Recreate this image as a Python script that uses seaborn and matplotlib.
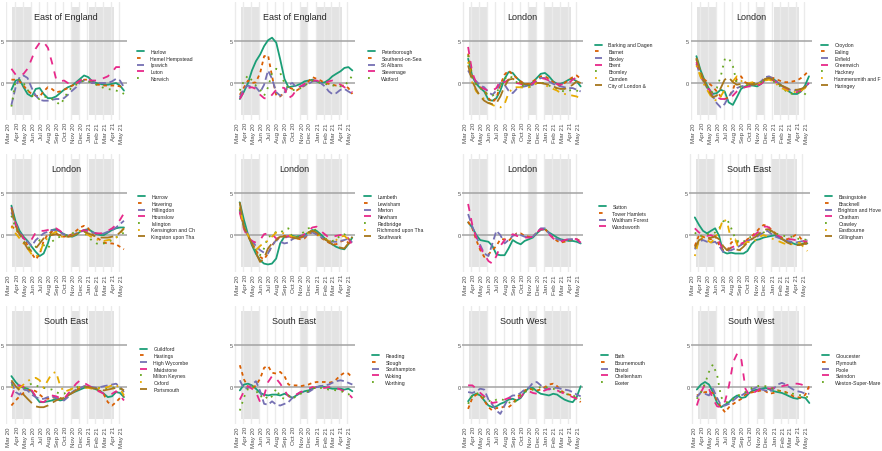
import pandas as pd
import numpy as np
import matplotlib
matplotlib.use('Agg')
import matplotlib.pyplot as plt
import matplotlib.transforms as mtransforms
import seaborn as sns

sns.set_style('white')
plt.rcParams['font.family'] = ['Liberation Sans', 'DejaVu Sans']

dates = ['2020-03-20', '2020-04-05', '2020-04-20', '2020-05-05', '2020-05-20', '2020-06-05',
         '2020-06-20', '2020-07-05', '2020-07-20', '2020-08-05', '2020-08-20', '2020-09-05',
         '2020-09-20', '2020-10-05', '2020-10-20', '2020-11-05', '2020-11-20', '2020-12-05',
         '2020-12-20', '2021-01-05', '2021-01-20', '2021-02-05', '2021-02-20', '2021-03-05',
         '2021-03-20', '2021-04-05', '2021-04-20', '2021-05-05', '2021-05-20']

# East of England (1)
harlow = [-0.8, 0.3, 0.4, -0.5, -1.3, -1.6, -0.7, -0.6, -1.3, -1.8, -1.8, -1.6, -1.2, -0.8, -0.5, -0.3, 0.1, 0.5, 0.9, 0.7, 0.2, 0.0, -0.1, -0.2, -0.2, -0.1, 0.0, -0.3, -0.9]
hemel_hempstead = [0.4, 0.4, 0.2, -0.3, -0.9, -1.3, -1.5, -1.6, -1.0, -0.5, -0.7, -1.1, -1.0, -0.8, -0.6, -0.3, -0.1, 0.2, 0.4, 0.4, 0.0, -0.2, -0.2, -0.3, -0.3, -0.3, -0.3, -0.4, -0.5]
ipswich = [-2.6, -0.5, 0.7, 0.9, 0.6, -0.6, -1.5, -2.0, -2.1, -2.1, -2.0, -1.9, -1.9, -1.8, -1.4, -0.9, -0.5, 0.1, 0.3, 0.2, 0.0, 0.0, 0.0, 0.0, 0.0, 0.2, 0.5, 0.3, -0.5]
luton = [1.7, 1.0, 0.9, 1.1, 1.7, 2.9, 4.1, 4.8, 4.9, 4.2, 2.5, 0.5, 0.2, 0.3, 0.0, -0.1, 0.0, 0.3, 0.5, 0.4, 0.3, 0.3, 0.4, 0.6, 0.8, 1.3, 1.9, 1.9, 1.6]
norwich = [-2.8, 0.3, 0.4, 0.0, -0.8, -1.5, -1.8, -1.9, -1.6, -1.7, -1.9, -2.2, -2.6, -1.9, -1.0, -0.5, -0.2, 0.1, 0.3, 0.2, 0.0, -0.2, -0.4, -0.6, -0.7, -0.8, -0.9, -1.0, -1.3]

# East of England (2)
peterborough = [-1.9, -1.0, 0.0, 1.5, 2.6, 3.4, 4.4, 5.1, 5.4, 4.8, 2.8, 0.5, -0.5, -0.4, -0.3, -0.1, 0.2, 0.3, 0.4, 0.2, 0.0, 0.1, 0.4, 0.8, 1.1, 1.4, 1.8, 1.9, 1.5]
southend = [-1.4, -0.5, 0.3, 0.0, 0.1, 1.2, 3.2, 3.3, 0.8, -1.5, -1.6, -1.1, -0.5, -0.7, -0.9, -0.6, -0.3, 0.2, 0.7, 0.5, 0.3, 0.0, -0.1, -0.2, -0.3, -0.3, -0.3, -0.6, -1.3]
st_albans = [-1.7, -0.6, -0.3, -0.5, -0.5, -1.1, -0.2, 1.5, 0.5, -1.1, -1.5, -1.2, -0.2, 0.0, -0.5, -0.4, -0.3, -0.1, 0.2, 0.3, 0.0, -0.4, -1.0, -1.3, -1.2, -0.8, -0.7, -1.0, -1.3]
stevenage = [-1.9, -1.0, -0.6, -0.5, -0.7, -1.4, -1.8, -1.9, -1.4, -0.8, -0.5, -0.6, -1.8, -1.5, -0.8, -0.4, -0.1, 0.2, 0.3, 0.3, 0.1, 0.0, 0.2, 0.3, 0.1, -0.2, -0.5, -0.8, -1.1]
watford = [-0.9, 0.3, 0.9, 0.3, -0.3, -0.8, -1.5, -0.5, 1.2, 1.7, 1.2, 0.0, -0.6, -0.8, -0.9, -0.6, -0.3, 0.0, 0.3, 0.2, 0.0, -0.1, -0.2, -0.3, -0.3, -0.4, -0.3, 0.2, 0.9]

# London (3)
barking = [2.9, 0.8, -0.1, -0.6, -1.0, -2.0, -2.1, -1.8, -0.9, 0.5, 1.3, 1.2, 0.6, 0.2, -0.2, -0.3, 0.1, 0.6, 1.1, 1.2, 0.8, 0.2, -0.1, -0.1, 0.1, 0.4, 0.5, 0.2, -0.4]
barnet = [3.5, 0.8, 0.1, -0.5, -0.8, -1.8, -2.3, -1.8, -0.2, 1.0, 1.5, 1.0, 0.6, 0.2, -0.1, -0.1, 0.2, 0.5, 0.8, 0.8, 0.5, 0.1, -0.2, -0.3, 0.0, 0.4, 0.7, 0.9, 0.5]
bexley = [1.5, 0.6, 0.2, -0.3, -0.5, -1.1, -1.4, -0.9, 0.0, -0.2, -0.9, -1.2, -0.7, -0.5, -0.4, -0.3, -0.2, 0.3, 0.6, 0.6, 0.2, -0.1, -0.3, -0.4, -0.5, -0.6, -0.6, -0.8, -1.0]
brent = [4.3, 1.2, 0.0, -0.5, -0.7, -0.9, -0.9, -0.6, 0.3, 0.1, 0.4, 0.3, 0.0, -0.1, -0.3, -0.3, 0.0, 0.3, 0.6, 0.5, 0.3, 0.0, -0.1, -0.2, -0.1, 0.0, 0.4, 0.7, 0.5]
bromley = [3.3, 0.6, -0.2, -0.6, -1.0, -1.4, -1.5, -1.2, -0.3, 0.5, 0.9, 0.6, 0.1, -0.2, -0.4, -0.5, -0.3, 0.0, 0.1, -0.1, -0.3, -0.5, -0.7, -0.9, -1.0, -0.9, -0.8, -0.9, -1.1]
camden = [2.5, 0.0, -1.0, -1.5, -1.9, -2.3, -2.6, -2.8, -2.9, -2.5, -1.2, -0.6, -0.5, -0.5, -0.6, -0.5, -0.3, 0.0, 0.0, -0.2, -0.5, -0.7, -0.9, -1.2, -1.3, -1.4, -1.5, -1.6, -1.9]
city_of_london = [2.1, 0.2, -0.8, -1.6, -2.1, -2.4, -2.5, -2.4, -1.6, -0.4, 0.4, 0.5, 0.3, 0.0, -0.1, -0.2, -0.1, 0.0, 0.0, -0.1, -0.2, -0.4, -0.6, -0.7, -0.7, -0.5, -0.2, 0.2, 0.0]

# London (4)
croydon = [3.2, 1.5, 0.3, -0.6, -1.3, -1.2, -0.8, -1.0, -2.3, -2.6, -1.7, -0.7, -0.4, -0.3, -0.3, -0.4, -0.1, 0.4, 0.7, 0.5, 0.1, -0.3, -0.6, -1.0, -1.3, -1.3, -1.0, -0.3, 0.8]
ealing = [2.9, 1.2, 0.4, 0.0, -0.4, -1.0, -1.6, -1.9, -1.7, -0.8, 0.5, 0.8, 0.1, -0.1, 0.0, 0.0, 0.0, 0.4, 0.7, 0.6, 0.4, 0.2, 0.1, 0.1, 0.2, 0.3, 0.6, 1.0, 1.5]
enfield = [2.3, 0.8, -0.1, -0.8, -1.5, -2.4, -2.9, -2.5, -1.6, -1.0, -0.6, -0.4, -0.3, -0.2, -0.2, -0.1, 0.2, 0.7, 0.8, 0.5, 0.1, -0.3, -0.6, -0.8, -0.8, -0.9, -0.7, -0.5, 0.0]
greenwich = [2.5, 0.9, 0.0, -0.7, -1.3, -1.7, -1.9, -1.9, -1.8, -1.5, -1.0, -0.7, -0.5, -0.4, -0.4, -0.3, -0.1, 0.3, 0.5, 0.3, 0.0, -0.3, -0.6, -0.8, -1.0, -1.1, -0.9, -0.5, 0.0]
hackney = [2.8, 1.0, -0.1, -0.8, -1.1, -0.6, 0.8, 2.8, 3.0, 2.0, 0.0, -0.5, -0.3, -0.2, -0.1, 0.0, 0.1, 0.4, 0.5, 0.2, -0.1, -0.5, -0.9, -1.2, -1.3, -1.2, -1.0, -1.3, -1.7]
hammersmith = [2.1, 0.7, -0.3, -1.1, -1.9, -2.1, -1.6, -0.8, -0.3, 0.2, 0.8, 0.3, -0.2, 0.0, 0.1, 0.0, 0.0, 0.3, 0.4, 0.2, -0.2, -0.6, -0.8, -1.0, -1.1, -1.0, -0.9, -0.6, 0.2]
haringey = [3.0, 1.2, 0.1, -0.8, -1.7, -1.5, -0.6, 0.4, 0.7, 0.1, -0.2, -0.1, 0.0, -0.1, -0.2, -0.1, 0.1, 0.5, 0.6, 0.4, 0.0, -0.3, -0.5, -0.7, -0.8, -0.8, -0.7, -0.5, 0.1]

# London (5)
harrow = [3.5, 1.6, 0.5, -0.2, -0.7, -1.4, -2.0, -2.5, -2.2, -1.0, 0.6, 0.7, 0.4, 0.1, -0.1, -0.2, 0.0, 0.4, 0.6, 0.7, 0.4, 0.1, 0.0, 0.0, 0.3, 0.6, 0.8, 0.9, 0.9]
havering = [1.1, 0.6, 0.2, -0.4, -1.2, -2.2, -2.9, -2.3, -0.7, 0.1, 0.4, 0.2, -0.1, -0.2, -0.1, 0.1, 0.5, 0.9, 1.1, 0.8, 0.1, -0.3, -0.6, -0.9, -1.0, -1.0, -1.1, -1.4, -1.7]
hillingdon = [2.7, 1.2, 0.3, -0.4, -0.8, -1.3, -0.6, -0.2, 0.2, 0.4, 0.6, 0.5, 0.3, 0.1, -0.1, 0.0, 0.2, 0.4, 0.5, 0.5, 0.3, 0.2, 0.1, 0.2, 0.4, 0.6, 0.9, 1.3, 1.7]
hounslow = [3.3, 1.3, 0.4, -0.4, -0.8, -0.5, 0.3, 0.5, 0.5, 0.6, 0.8, 0.8, 0.5, 0.1, -0.1, -0.1, 0.2, 0.4, 0.6, 0.5, 0.3, 0.2, 0.2, 0.3, 0.5, 0.8, 1.2, 1.8, 2.6]
islington = [2.3, 0.8, 0.2, -0.7, -1.4, -1.6, -1.4, -0.6, -1.2, -1.6, -0.8, -0.4, -0.2, -0.1, 0.0, 0.2, 0.4, 0.5, 0.3, -0.2, -0.7, -1.0, -1.1, -1.0, -0.8, -0.6, -0.3, 0.0, 0.3]
kensington = [1.0, 0.2, -0.4, -1.0, -1.6, -2.3, -2.6, -2.2, -0.9, -0.3, 0.1, 0.4, -0.1, -0.3, -0.2, -0.1, 0.2, 0.5, 0.3, 0.0, -0.3, -0.5, -0.7, -0.7, -0.6, -0.5, -0.3, 0.2, 0.8]
kingston = [3.2, 1.1, 0.1, -0.8, -1.6, -1.9, -1.6, -1.0, -0.4, -0.1, 0.0, 0.1, 0.0, -0.2, -0.2, -0.1, 0.1, 0.3, 0.4, 0.2, 0.0, -0.2, -0.3, -0.3, -0.3, -0.2, -0.1, 0.3, 0.8]

# London (6)
lambeth = [3.9, 1.8, 0.1, -1.2, -2.2, -3.0, -3.4, -3.5, -3.4, -2.8, -1.0, -0.2, -0.2, -0.1, -0.2, -0.1, 0.0, 0.3, 0.6, 0.5, 0.1, -0.4, -0.8, -1.1, -1.4, -1.6, -1.7, -1.1, -0.3]
lewisham = [2.9, 0.9, -0.1, -0.9, -1.8, -2.6, -2.9, -2.2, -1.3, -0.5, -0.2, -0.1, -0.2, -0.3, -0.4, -0.5, -0.4, 0.1, 0.4, 0.1, -0.3, -0.6, -0.9, -1.1, -1.1, -0.8, -0.6, -0.9, -1.3]
merton = [3.0, 1.0, 0.0, -0.7, -1.3, -1.8, -2.1, -2.2, -1.3, -0.6, -0.8, -1.0, -0.9, -0.5, -0.3, -0.3, -0.2, 0.1, 0.3, 0.1, -0.2, -0.5, -0.7, -0.8, -0.8, -0.7, -0.6, -0.4, -0.9]
newham = [2.7, 0.7, -0.3, -0.7, -0.9, -0.6, 0.1, 0.2, 0.1, -0.4, -0.6, -0.4, -0.1, -0.3, -0.3, -0.2, 0.1, 0.5, 0.9, 1.0, 0.5, 0.1, -0.3, -0.2, -0.1, 0.0, 0.1, -0.4, -1.2]
redbridge = [3.1, 0.9, 0.0, -1.0, -1.8, -2.4, -1.6, -0.2, -0.1, 0.4, 0.3, 0.6, 0.8, -0.2, -0.3, 0.1, 0.4, 0.8, 0.9, 0.5, -0.1, -0.4, -0.6, -0.7, -0.6, 0.0, 0.1, -0.3, -0.9]
richmond = [3.3, 1.0, 0.0, -1.0, -1.8, -1.3, -0.9, -0.7, -0.2, 0.3, 0.3, 0.2, 0.0, -0.2, -0.3, -0.3, -0.1, 0.3, 0.5, 0.2, -0.2, -0.5, -0.7, -0.8, -0.6, -0.2, -0.1, -0.5, -0.8]
southwark = [3.9, 1.0, -0.1, -1.0, -2.1, -3.2, -2.8, -1.6, -1.0, -0.6, -0.2, -0.2, -0.2, -0.3, -0.4, -0.3, -0.1, 0.3, 0.5, 0.3, -0.1, -0.5, -0.8, -1.1, -1.3, -1.5, -1.6, -1.0, -0.2]

# London (7)
sutton = [1.5, 0.9, 0.0, -0.6, -0.7, -0.8, -1.3, -2.3, -2.4, -2.4, -1.6, -0.6, -0.9, -1.1, -0.7, -0.5, -0.3, 0.2, 0.6, 0.7, 0.3, 0.0, -0.3, -0.5, -0.6, -0.7, -0.7, -0.8, -1.0]
tower_hamlets = [1.6, 0.8, -0.6, -1.8, -2.6, -2.3, -1.8, -1.3, -0.5, -0.5, -0.7, -0.2, 0.2, 0.2, -0.1, -0.2, -0.2, 0.3, 0.7, 0.7, 0.2, -0.3, -0.7, -0.9, -0.8, -0.6, -0.5, -0.5, -0.7]
waltham_forest = [2.5, 1.0, -0.2, -1.2, -2.2, -2.5, -1.0, 0.5, 0.0, -1.0, -0.6, -0.1, 0.1, 0.0, -0.2, -0.3, -0.2, 0.3, 0.8, 0.8, 0.2, -0.2, -0.5, -0.6, -0.6, -0.5, -0.5, -0.5, -1.0]
wandsworth = [3.7, 1.2, -0.3, -1.5, -2.3, -3.1, -3.4, -2.5, -1.3, -0.6, -0.2, 0.1, -0.1, -0.2, -0.3, -0.3, -0.2, 0.3, 0.7, 0.6, 0.1, -0.4, -0.7, -0.8, -0.6, -0.5, -0.4, -0.5, -0.9]

# South East (8)
basingstoke = [2.1, 1.2, 0.5, 0.2, 0.5, 0.8, -0.1, -2.0, -2.2, -2.1, -2.2, -2.2, -2.2, -1.9, -1.1, -0.6, -0.5, -0.3, -0.2, -0.1, 0.0, -0.3, -0.6, -0.8, -0.9, -1.1, -1.1, -1.0, -1.0]
bracknell = [-1.3, 0.0, -0.2, -0.4, -0.5, -0.1, -1.2, -1.8, -1.9, -0.9, -0.6, -1.2, -1.0, -0.5, -0.2, 0.3, 0.8, 1.2, 1.1, 0.6, 0.2, -0.2, -0.4, -0.5, -0.3, 0.0, -0.2, -0.8, -1.2]
brighton = [-1.7, -0.8, -0.6, -0.8, -0.9, -0.8, -1.3, -2.0, -1.9, -1.8, -1.6, -1.3, -1.0, -0.7, -0.5, -0.3, 0.0, 0.3, 0.5, 0.1, -0.2, -0.4, -0.6, -0.7, -0.8, -0.9, -0.8, -0.7, -0.6]
chatham = [0.8, 0.3, 0.1, -0.1, 0.0, -0.3, -0.8, -1.8, -1.8, -1.5, -1.3, -1.1, -0.9, -0.6, -0.3, 0.1, 0.5, 1.0, 1.0, 0.6, 0.1, -0.2, -0.4, -0.5, -0.5, -0.6, -0.7, -0.7, -0.8]
crawley = [0.3, -0.2, 0.0, 0.1, 0.1, 0.3, 0.8, 1.6, 1.9, 0.8, -0.4, -0.9, -0.8, -0.4, -0.2, -0.1, 0.1, 0.3, 0.5, 0.4, 0.2, 0.0, -0.1, -0.2, -0.2, -0.3, -0.5, -0.5, -0.6]
eastbourne = [-2.5, -0.5, -0.3, -0.6, -0.9, -0.4, 0.5, 1.9, 1.6, -0.7, -0.5, -1.9, -1.2, -0.8, -0.9, -0.6, -0.2, 0.0, -0.2, -0.4, -0.6, -0.8, -1.0, -1.1, -1.1, -1.0, -0.9, -1.4, -1.9]
gillingham = [-1.5, -0.6, -0.4, -0.4, -0.3, -0.2, -0.5, -1.3, -1.8, -1.5, -1.7, -1.8, -1.4, -0.9, -0.5, -0.2, 0.2, 0.6, 0.7, 0.5, 0.1, -0.3, -0.6, -0.9, -1.1, -1.2, -1.2, -1.1, -0.9]

# South East (9)
guildford = [1.3, 0.6, 0.1, -0.1, -0.2, -0.5, -1.2, -1.8, -1.8, -1.7, -1.6, -1.4, -1.6, -1.5, -1.0, -0.7, -0.5, -0.3, -0.1, 0.0, -0.1, -0.3, -0.5, -0.8, -1.2, -1.1, -0.6, -0.7, -1.2]
hastings = [-2.2, -1.6, -1.1, -0.7, -0.4, -0.3, -0.5, -0.9, -1.3, -1.4, -1.3, -1.2, -1.3, -1.5, -1.0, -0.7, -0.3, 0.0, 0.1, 0.0, -0.1, -0.3, -0.5, -0.9, -1.8, -2.2, -1.8, -1.3, -1.0]
high_wycombe = [0.6, -0.6, -0.9, -0.3, -0.4, -0.9, -1.2, -1.4, -1.4, -1.2, -1.1, -1.3, -1.4, -1.6, -1.2, -0.6, -0.3, -0.1, 0.1, 0.1, 0.0, -0.1, 0.0, 0.1, 0.2, 0.3, 0.4, 0.0, -0.6]
maidstone = [-1.2, 0.2, 0.2, 0.0, -0.2, -0.4, -1.1, -1.7, -1.8, -1.4, -1.0, -1.1, -1.3, -1.4, -0.8, -0.2, 0.4, 0.8, 0.5, 0.2, -0.1, -0.4, -0.6, -0.8, -0.9, -0.8, -0.5, -1.0, -1.6]
milton_keynes = [0.3, 0.0, -0.2, -0.3, 0.2, 0.4, 0.2, 0.0, -0.1, -0.2, -0.3, -0.6, -0.8, -0.8, -0.5, -0.2, 0.0, 0.0, 0.0, -0.1, -0.1, -0.1, -0.1, -0.2, -0.2, -0.1, 0.0, -0.2, -0.5]
oxford = [0.0, -0.2, -0.1, 0.3, 0.7, 1.0, 1.1, 0.8, -0.1, 0.8, 1.6, 1.8, 0.2, -0.6, -0.4, -0.2, 0.0, -0.1, -0.1, -0.1, -0.2, -0.2, -0.1, -0.1, 0.0, 0.2, 0.3, -0.2, -1.0]
portsmouth = [0.8, 0.1, -0.4, -0.9, -1.4, -1.9, -2.3, -2.4, -2.4, -2.2, -1.9, -1.6, -1.4, -1.3, -1.0, -0.7, -0.4, -0.2, 0.0, 0.0, -0.1, -0.2, -0.3, -0.4, -0.3, -0.2, -0.1, -0.1, -0.4]

# South East (10)
reading = [-0.4, 0.3, 0.4, 0.2, -0.2, -0.7, -0.9, -1.0, -0.9, -0.9, -1.0, -0.8, -1.0, -1.3, -1.0, -0.7, -0.5, -0.4, -0.2, 0.0, 0.1, 0.0, -0.1, -0.2, -0.2, -0.2, -0.3, -0.2, -0.5]
slough = [2.6, 0.9, 0.0, -0.2, 0.2, 1.0, 2.3, 2.5, 1.7, 1.6, 1.8, 1.3, 0.3, 0.2, 0.2, 0.1, 0.2, 0.3, 0.5, 0.6, 0.6, 0.6, 0.5, 0.6, 0.9, 1.4, 1.7, 1.6, 1.1]
southampton = [0.8, -0.2, -0.1, 0.3, 0.7, -0.5, -2.0, -2.1, -1.7, -2.1, -2.2, -2.0, -1.8, -1.3, -0.9, -0.6, -0.6, -0.6, -0.3, 0.0, 0.1, 0.2, 0.3, 0.5, 0.7, 0.8, 0.7, 0.5, 0.3]
woking = [-1.5, -0.5, 0.1, -0.2, -0.6, -1.8, -1.0, 0.6, 1.3, 1.0, 0.4, -0.4, -1.1, -1.3, -0.9, -0.6, -0.4, -0.2, 0.0, -0.1, -0.1, -0.1, 0.0, 0.0, -0.1, -0.3, -0.5, -0.8, -1.3]
worthing = [-2.8, -1.2, -0.2, 0.2, -0.4, -1.2, -0.9, -1.5, -1.1, -0.2, -1.2, -1.4, -1.0, -1.4, -1.1, -0.8, -0.6, -0.5, -0.2, 0.0, -0.1, -0.2, -0.3, -0.3, -0.4, -0.5, -0.6, -0.8, -1.4]

# South West (11)
bath = [-1.7, -1.0, -0.8, -1.0, -1.6, -2.2, -2.4, -2.3, -2.0, -1.8, -1.5, -1.4, -1.6, -1.3, -0.6, -0.1, -0.1, -0.5, -0.8, -0.9, -1.0, -0.8, -0.9, -1.2, -1.5, -1.7, -1.8, -1.2, 0.1]
bournemouth = [-2.6, -1.3, -0.9, -1.0, -1.6, -2.4, -2.8, -2.5, -2.5, -2.3, -2.4, -2.0, -1.3, -0.8, -0.4, -0.2, -0.3, -0.4, -0.3, 0.0, 0.3, 0.4, 0.1, -0.4, -0.7, -0.9, -1.0, -1.4, -1.8]
bristol = [-0.6, -0.7, -0.5, -0.2, -0.3, -1.5, -2.1, -2.8, -3.2, -2.2, -1.3, -1.0, -1.0, -0.7, -0.3, -0.1, 0.5, 0.6, 0.2, -0.2, -0.3, -0.1, -0.1, -0.2, -0.3, -0.4, -0.6, -0.9, -1.1]
cheltenham = [0.2, 0.2, -0.2, -0.7, -1.1, -1.5, -1.9, -1.8, -1.7, -1.5, -1.3, -1.4, -1.4, -1.2, -0.6, -0.5, -0.7, -0.8, -0.6, -0.4, -0.2, -0.3, -0.4, -0.6, -0.8, -1.0, -1.2, -1.4, -1.6]
exeter = [-2.0, -1.0, -0.7, -0.9, -1.3, -1.6, -1.8, -1.5, -1.4, -1.6, -1.8, -2.0, -1.6, -1.0, -0.6, -0.4, -0.3, -0.2, 0.0, 0.0, -0.1, -0.2, -0.4, -0.6, -0.8, -0.9, -1.0, -1.2, -1.4]

# South West (12)
gloucester = [-0.3, 0.3, 0.6, 0.3, -0.6, -1.9, -2.4, -2.1, -1.8, -1.3, -1.0, -1.3, -1.2, -0.7, -0.4, -0.3, -0.2, -0.1, -0.3, -0.5, -0.6, -0.7, -0.9, -1.1, -1.3, -1.4, -1.2, -1.3, -1.9]
plymouth = [-1.0, -0.8, -0.6, -0.6, -0.7, -1.6, -2.4, -3.0, -2.4, -2.0, -1.7, -1.4, -0.9, -0.7, -0.6, -0.5, -0.4, -0.5, -0.8, -0.7, -0.4, -0.5, -0.6, -0.8, -1.1, -1.2, -1.3, -0.9, 0.2]
poole = [-1.2, -0.6, -0.8, -1.0, -0.2, -1.3, -2.2, -2.2, -2.0, -1.6, -1.2, -1.0, -0.7, -0.5, -0.2, 0.0, -0.3, -0.4, -0.6, -0.2, 0.3, 0.5, 0.3, 0.0, -0.3, -0.5, -0.6, -0.8, -0.8]
swindon = [-2.2, -0.6, 0.3, -0.2, -1.4, -2.3, -2.4, -1.7, 0.2, 3.0, 4.0, 3.2, -0.2, -1.0, -0.7, -0.4, -0.1, -0.1, -0.2, -0.1, 0.0, 0.1, 0.2, 0.3, 0.4, 0.4, 0.3, 0.1, -0.2]
weston = [-1.4, -0.6, 0.4, 1.8, 2.7, 1.4, -1.2, -1.8, -1.8, -1.4, -1.0, -0.9, -0.6, -0.3, 0.0, 0.1, 0.2, 0.1, -0.1, -0.2, -0.4, -0.6, -0.7, -0.8, -0.8, -0.9, -1.0, -1.1, -1.3]

panels = [
    ('East of England', ['Harlow', 'Hemel Hempstead', 'Ipswich', 'Luton', 'Norwich'],
     [harlow, hemel_hempstead, ipswich, luton, norwich]),
    ('East of England', ['Peterborough', 'Southend-on-Sea', 'St Albans', 'Stevenage', 'Watford'],
     [peterborough, southend, st_albans, stevenage, watford]),
    ('London', ['Barking and Dagen', 'Barnet', 'Bexley', 'Brent', 'Bromley', 'Camden', 'City of London &'],
     [barking, barnet, bexley, brent, bromley, camden, city_of_london]),
    ('London', ['Croydon', 'Ealing', 'Enfield', 'Greenwich', 'Hackney', 'Hammersmith and F', 'Haringey'],
     [croydon, ealing, enfield, greenwich, hackney, hammersmith, haringey]),
    ('London', ['Harrow', 'Havering', 'Hillingdon', 'Hounslow', 'Islington', 'Kensington and Ch', 'Kingston upon Tha'],
     [harrow, havering, hillingdon, hounslow, islington, kensington, kingston]),
    ('London', ['Lambeth', 'Lewisham', 'Merton', 'Newham', 'Redbridge', 'Richmond upon Tha', 'Southwark'],
     [lambeth, lewisham, merton, newham, redbridge, richmond, southwark]),
    ('London', ['Sutton', 'Tower Hamlets', 'Waltham Forest', 'Wandsworth'],
     [sutton, tower_hamlets, waltham_forest, wandsworth]),
    ('South East', ['Basingstoke', 'Bracknell', 'Brighton and Hove', 'Chatham', 'Crawley', 'Eastbourne', 'Gillingham'],
     [basingstoke, bracknell, brighton, chatham, crawley, eastbourne, gillingham]),
    ('South East', ['Guildford', 'Hastings', 'High Wycombe', 'Maidstone', 'Milton Keynes', 'Oxford', 'Portsmouth'],
     [guildford, hastings, high_wycombe, maidstone, milton_keynes, oxford, portsmouth]),
    ('South East', ['Reading', 'Slough', 'Southampton', 'Woking', 'Worthing'],
     [reading, slough, southampton, woking, worthing]),
    ('South West', ['Bath', 'Bournemouth', 'Bristol', 'Cheltenham', 'Exeter'],
     [bath, bournemouth, bristol, cheltenham, exeter]),
    ('South West', ['Gloucester', 'Plymouth', 'Poole', 'Swindon', 'Weston-Super-Mare'],
     [gloucester, plymouth, poole, swindon, weston]),
]

lockdowns = [('2020-03-23', '2020-06-01'), ('2020-11-05', '2020-12-02'), ('2021-01-06', '2021-04-12')]

dark2 = ['#1B9E77', '#D95F02', '#7570B3', '#E7298A', '#66A61E', '#E6AB02', '#A6761D']
dash_styles = ['', (2, 2), (4, 2), (4, 4), (1, 3), (1, 3, 4, 3), (7, 3)]

# layout (pixels)
W, H = 882, 452
ax_w, ax_h = 121, 117.6
panel_left = [5.6, 234, 462.3, 690.6, 5.6, 233.9, 462.3, 689, 5.6, 234, 462.3, 691]
row_top = [3.4, 155.4, 307.4]
legend_x = [137, 368, 595, 821, 138, 364, 599, 825, 140, 372, 601, 822]
legend_y = [66, 217.5, 370]

month_ticks = pd.date_range('2020-03-01', '2021-05-01', freq='MS')
x_dates = pd.to_datetime(dates)

fig = plt.figure(figsize=(8.82, 4.52), dpi=100)

for i, (region, names, series) in enumerate(panels):
    row = i // 4
    ax = fig.add_axes([panel_left[i] / W, 1 - (row_top[row] + ax_h) / H, ax_w / W, ax_h / H])

    df = pd.concat([pd.DataFrame({'date': x_dates, 'value': v, 'area': n})
                    for n, v in zip(names, series)], ignore_index=True)

    # lockdown bands, month grid, reference lines
    for start, end in lockdowns:
        ax.fill_between([pd.Timestamp(start), pd.Timestamp(end)], -3.75, 9.0,
                        color='#E3E3E3', lw=0, zorder=0)
    for t in month_ticks:
        ax.axvline(t, color='#EBEBEB', lw=1.0, zorder=0.5)
    ax.axhline(0, color='#A3A3A3', lw=1.1, zorder=1)
    ax.axhline(5, color='#A3A3A3', lw=1.1, zorder=1)

    sns.lineplot(data=df, x='date', y='value', hue='area', style='area',
                 palette=dark2[:len(names)], dashes=dash_styles[:len(names)],
                 linewidth=1.3, ax=ax, zorder=3)

    ax.set_xlim(pd.Timestamp('2020-02-27'), pd.Timestamp('2021-05-30'))
    ax.set_ylim(-4.4, 9.6)
    ax.set_xticks(month_ticks)
    ax.set_xticklabels([d.strftime('%b %y') for d in month_ticks], rotation=90,
                       fontsize=4.5, color='#4D4D4D', ha='left')
    ax.set_yticks([0, 5])
    ax.set_yticklabels(['0', '5'], fontsize=4, color='#4D4D4D')
    ax.tick_params(axis='x', length=0, pad=1.5)
    ax.tick_params(axis='y', length=0, pad=1)
    ax.set_xlabel('')
    ax.set_ylabel('')
    ax.grid(False)
    sns.despine(ax=ax, left=True, bottom=True)

    trans = mtransforms.blended_transform_factory(ax.transAxes, ax.transData)
    ax.text(0.5, 7.9, region, transform=trans, ha='center', va='center', fontsize=6.5, zorder=5)

    handles, labels = ax.get_legend_handles_labels()
    ax.legend(handles, labels, loc='center left',
              bbox_to_anchor=(legend_x[i] / W, 1 - legend_y[row] / H),
              bbox_transform=fig.transFigure, frameon=False, fontsize=3.7,
              handlelength=1.3, handletextpad=1.3, labelspacing=0.33,
              borderpad=0, borderaxespad=0)

fig.savefig('out.png', dpi=100)
